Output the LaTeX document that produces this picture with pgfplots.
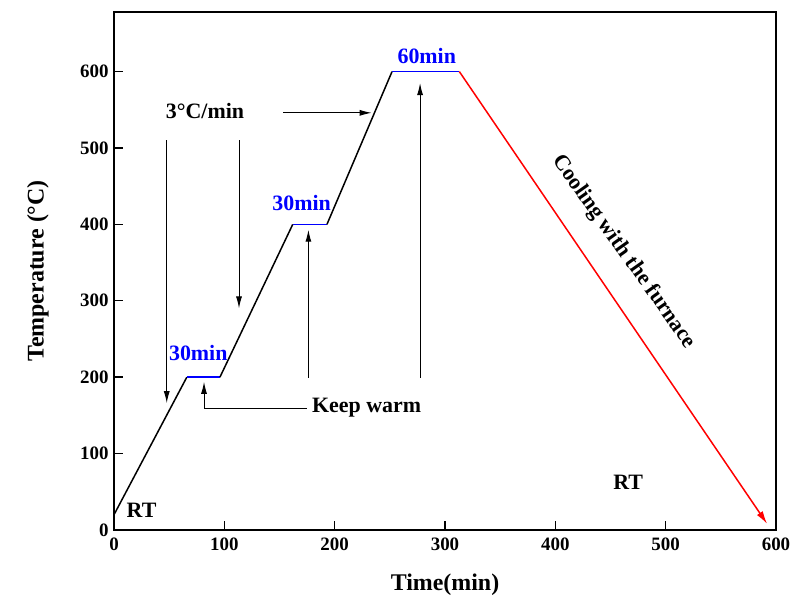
\documentclass[border=0pt]{standalone}
\usepackage{pgfplots}
\pgfplotsset{compat=1.18}
\usepackage{fontspec}
\setmainfont{Liberation Serif}
\usetikzlibrary{arrows.meta}
\begin{document}
\begin{tikzpicture}
\begin{axis}[
  scale only axis, width=662bp, height=518bp,
  xmin=0, xmax=600, ymin=0, ymax=678,
  xtick={0,100,...,600}, ytick={0,100,...,600},
  tick align=inside, tick pos=left, major tick length=9bp,
  axis line style={line width=1.6bp},
  every tick/.style={black, line width=1.4bp},
  /pgf/number format/assume math mode=true,
  tick label style={font=\fontsize{19}{21}\selectfont\bfseries},
  xticklabel style={yshift=-4bp},
  yticklabel style={xshift=-2bp},
  xlabel={Time(min)}, ylabel={Temperature (°C)},
  every axis x label/.style={at={(axis description cs:0.5,0)}, anchor=center, yshift=-55bp, font=\fontsize{24}{26}\selectfont\bfseries},
  every axis y label/.style={at={(axis description cs:0,0.5)}, xshift=-76bp, rotate=90, anchor=center, font=\fontsize{24}{26}\selectfont\bfseries},
  clip=false,
]
\addplot[black, line width=1.5bp] coordinates {(0,20) (66,200)};
\addplot[blue, line width=1.5bp] coordinates {(66,200) (96,200)};
\addplot[black, line width=1.5bp] coordinates {(96,200) (162,400)};
\addplot[blue, line width=1.5bp] coordinates {(162,400) (193,400)};
\addplot[black, line width=1.5bp] coordinates {(193,400) (252,600)};
\addplot[blue, line width=1.5bp] coordinates {(252,600) (313,600)};
\addplot[red, line width=1.5bp, -{Latex[length=13bp,width=7bp]}] coordinates {(313,600) (592,8)};

% annotations
\def\af{\fontsize{22}{24}\selectfont\bfseries}
\node[font=\af] at (axis cs:82.5,548) {3°C/min};
\draw[line width=1bp, -{Latex[length=12bp,width=6bp]}] (axis cs:47.8,510) -- (axis cs:47.8,166);
\draw[line width=1bp, -{Latex[length=12bp,width=6bp]}] (axis cs:113.3,510) -- (axis cs:113.3,290);
\draw[line width=1bp, -{Latex[length=12bp,width=6bp]}] (axis cs:153.5,546) -- (axis cs:233.6,546);

\node[font=\af] at (axis cs:229,159.5) {Keep warm};
\draw[line width=1bp, -{Latex[length=12bp,width=6bp]}] (axis cs:174.7,159.5) -- (axis cs:81.6,159.5) -- (axis cs:81.6,194);
\draw[line width=1bp, -{Latex[length=12bp,width=6bp]}] (axis cs:176.2,199) -- (axis cs:176.2,393);
\draw[line width=1bp, -{Latex[length=12bp,width=6bp]}] (axis cs:277.4,199) -- (axis cs:277.4,585);

\node[font=\af, text=blue] at (axis cs:76.4,231.5) {30min};
\node[font=\af, text=blue] at (axis cs:170,428) {30min};
\node[font=\af, text=blue] at (axis cs:283.5,620) {60min};

\node[font=\af] at (axis cs:25,26) {RT};
\node[font=\af] at (axis cs:466,62) {RT};

\node[font=\af, rotate=-54.6] at (axis cs:462,364) {Cooling with the furnace};
\end{axis}
\pgfresetboundingbox
\useasboundingbox (current axis.south west) ++(-114bp,-79bp) rectangle ++(792bp,609bp);
\end{tikzpicture}
\end{document}
